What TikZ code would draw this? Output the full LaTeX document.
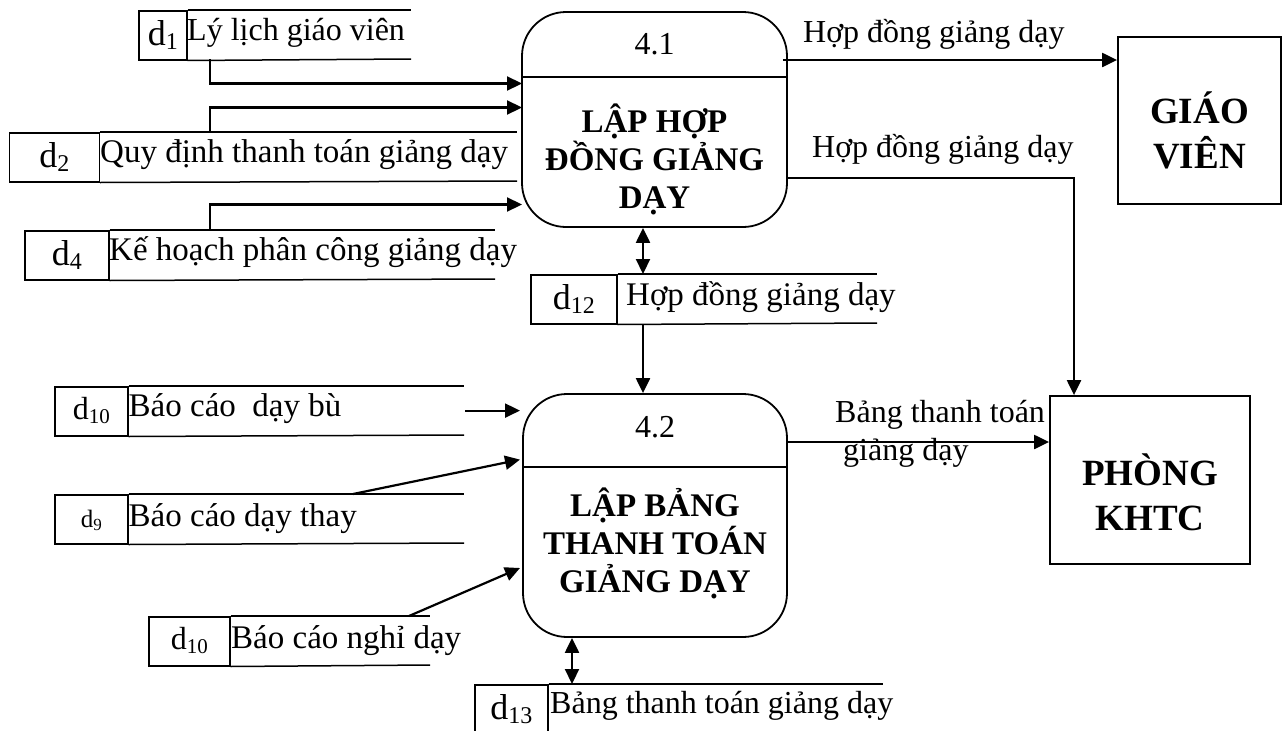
\documentclass[tikz,border=0pt]{standalone}
\usepackage{fontspec}
\setmainfont{Liberation Serif}
\usetikzlibrary{arrows.meta}
% store numbers: "d" with a lowered index, in two sizes
\newcommand{\dstore}[1]{d\raisebox{-4pt}{\fontsize{24}{24}\selectfont #1}}
\newcommand{\dstoresm}[1]{d\raisebox{-4pt}{\fontsize{21}{21}\selectfont #1}}

\begin{document}
\begin{tikzpicture}[x=1pt,y=-1pt,
  txt/.style={font=\fontsize{32}{38}\selectfont, inner sep=0pt},
  stxt/.style={font=\fontsize{33}{38}\selectfont, inner sep=0pt},
  storeid/.style={draw, line width=1.5pt, inner sep=0pt, minimum height=49pt,
    text height=28pt, text depth=7pt, anchor=north west,
    font=\fontsize{36}{36}\selectfont},
  storeidsm/.style={storeid, text height=26pt, text depth=9pt,
    font=\fontsize{32}{32}\selectfont},
  storeline/.style={line width=1.5pt},
  proc/.style={draw, line width=1.8pt, rounded corners=44pt, inner sep=0pt},
  ptitle/.style={font=\fontsize{33}{38}\selectfont\bfseries, align=center, inner sep=0pt},
  ext/.style={draw, line width=1.8pt, inner sep=0pt},
  etitle/.style={font=\fontsize{37}{45}\selectfont\bfseries, align=center, inner sep=0pt},
  flow/.style={line width=2.2pt, -{Triangle[length=15pt,width=14pt]}},
  biflow/.style={line width=2.2pt, {Triangle[length=15pt,width=14pt]}-{Triangle[length=15pt,width=14pt]}},
]
\useasboundingbox (0,0) rectangle (1286,731);

% ---------- data stores ----------
\node[storeid, minimum width=48pt] (s1) at (138,10) {\dstore{1}};
\draw[storeline] (s1.north east) -- (411,10);
\draw[storeline] (s1.south east) -- (411,59);
\node[txt, anchor=base west] (s1t) at (187,40.5) {Lý lịch giáo viên};

\node[storeid, minimum width=90pt] (s2) at (8.5,132) {\dstore{2}};
\draw[storeline] (s2.north east) -- (517,132);
\draw[storeline] (s2.south east) -- (517,181);
\node[stxt, anchor=base west] (s2t) at (100,162) {Quy định thanh toán giảng dạy};

\node[storeid, minimum width=84pt] (s4) at (24,230) {\dstore{4}};
\draw[storeline] (s4.north east) -- (495,230);
\draw[storeline] (s4.south east) -- (495,279);
\node[stxt, anchor=base west] (s4t) at (109,260) {Kế hoạch phân công giảng dạy};

\node[storeid, minimum width=86pt] (s12) at (530,274) {\dstore{12}};
\draw[storeline] (s12.north east) -- (877,274);
\draw[storeline] (s12.south east) -- (877,323);
\node[stxt, anchor=base west] (s12t) at (626,305) {Hợp đồng giảng dạy};

\node[storeidsm, minimum width=73pt] (s10a) at (54,386) {\dstoresm{10}};
\draw[storeline] (s10a.north east) -- (464,386);
\draw[storeline] (s10a.south east) -- (464,435);
\node[stxt, anchor=base west] (s10at) at (128.5,416) {Báo cáo~ dạy bù};

\node[storeidsm, minimum width=73pt] (s9) at (54,494)
  {{\fontsize{25}{25}\selectfont d\raisebox{-3pt}{\fontsize{17}{17}\selectfont 9}}};
\draw[storeline] (s9.north east) -- (464,494);
\draw[storeline] (s9.south east) -- (464,543);
\node[stxt, anchor=base west] (s9t) at (128.5,526) {Báo cáo dạy thay};

\node[storeidsm, minimum width=81pt] (s10b) at (148,616) {\dstoresm{10}};
\draw[storeline] (s10b.north east) -- (430,616);
\draw[storeline] (s10b.south east) -- (430,665);
\node[stxt, anchor=base west] (s10bt) at (231,648) {Báo cáo nghỉ dạy};

\node[storeid, minimum width=73pt] (s13) at (474,684) {\dstore{13}};
\draw[storeline] (s13.north east) -- (883,684);
\draw[storeline] (s13.south east) -- (883,733);
\node[txt, anchor=base west] (s13t) at (550,713) {Bảng thanh toán giảng dạy};

% ---------- processes (title nodes anchored on their last line) ----------
\node[proc, minimum width=265pt, minimum height=215pt] (p41) at (654.5,119.5) {};
\draw[line width=1.8pt] (p41.west |- 0,77) -- (p41.east |- 0,77);
\node[txt, anchor=base] (p41n) at (654.5,54) {4.1};
\node[ptitle, anchor=base] (p41t) at (654.5,208) {LẬP HỢP\\ĐỒNG GIẢNG\\DẠY};

\node[proc, minimum width=264pt, minimum height=243pt] (p42) at (655,515.5) {};
\draw[line width=1.8pt] (p42.west |- 0,467) -- (p42.east |- 0,467);
\node[txt, anchor=base] (p42n) at (655,437) {4.2};
\node[ptitle, anchor=base] (p42t) at (655,592) {LẬP BẢNG\\THANH TOÁN\\GIẢNG DẠY};

% ---------- external entities ----------
\node[ext, minimum width=163pt, minimum height=167pt] (gv) at (1199.5,120.5) {};
\node[etitle, anchor=base] (gvt) at (1199.5,168) {GIÁO\\VIÊN};

\node[ext, minimum width=200pt, minimum height=168pt] (pk) at (1150,480) {};
\node[etitle, anchor=base] (pkt) at (1150,530) {PHÒNG\\KHTC};

% ---------- flows into 4.1 ----------
\coordinate (s1o) at (210,59);
\coordinate (p41i1) at (522,83.5);
\draw[flow] (s1o) |- (p41i1);
\coordinate (s2o) at (210,132);
\coordinate (p41i2) at (522,107.5);
\draw[flow] (s2o) |- (p41i2);
\coordinate (s4o) at (210,230);
\coordinate (p41i3) at (522,204.5);
\draw[flow] (s4o) |- (p41i3);

% ---------- flows out of 4.1 ----------
\coordinate (p41o1) at (783,60);
\draw[flow] (p41o1) -- (gv.west |- p41o1);
\node[txt, anchor=base west] (f1) at (803,42) {Hợp đồng giảng dạy};
\coordinate (p41o2) at (787,178);
\draw[flow] (p41o2) -| (1074,0 |- pk.north);
\node[txt, anchor=base west] (f2) at (812,157) {Hợp đồng giảng dạy};

\draw[biflow] (643,0 |- p41.south) -- (643,0 |- s12.north);
\draw[flow] (643,0 |- s12.south) -- (643,0 |- p42.north);

% ---------- flows into 4.2 ----------
\coordinate (s10ao) at (465,410.6);
\coordinate (p42i1) at (520,410.6);
\draw[flow] (s10ao) -- (p42i1);
\coordinate (s9o) at (353,494);
\coordinate (p42i2) at (520,459.6);
\draw[flow] (s9o) -- (p42i2);
\coordinate (s10bo) at (409,616);
\coordinate (p42i3) at (520,568);
\draw[flow] (s10bo) -- (p42i3);

% ---------- flows out of 4.2 ----------
\coordinate (p42o) at (787,442);
\draw[flow] (p42o) -- (pk.west |- p42o);
\node[txt, anchor=base west] (f3a) at (835,422) {Bảng thanh toán};
\node[txt, anchor=base west] (f3b) at (843,460) {giảng dạy};

\draw[biflow] (572,0 |- p42.south) -- (572,0 |- s13.north);
\end{tikzpicture}
\end{document}
